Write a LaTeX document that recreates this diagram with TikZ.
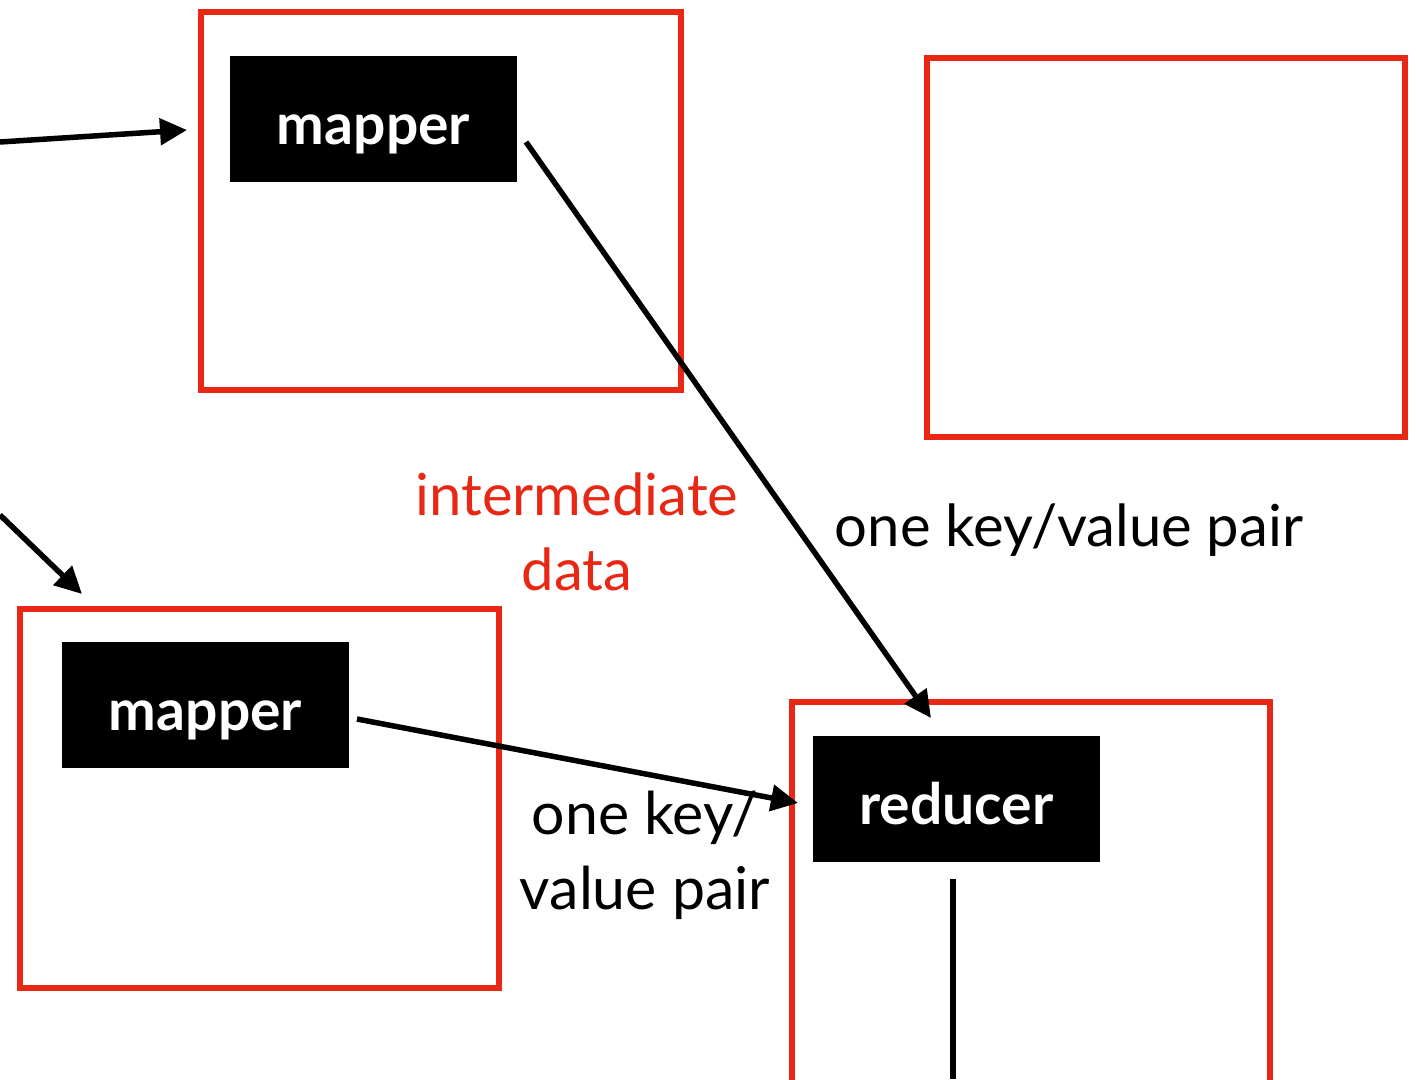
\documentclass[tikz,border=0pt]{standalone}
\usepackage{fontspec}
\setmainfont{Lato}
\usetikzlibrary{arrows.meta}
\definecolor{boxred}{RGB}{232,40,20}
\newcommand{\boxtxt}[1]{\raisebox{-25pt}[0pt][0pt]{#1}}
\begin{document}
\begin{tikzpicture}[x=1pt,y=-1pt,
  redbox/.style={draw=boxred,line width=5.5pt,inner sep=0pt,outer sep=0pt,anchor=north west},
  blackbox/.style={fill=black,text=white,inner sep=0pt,minimum width=287pt,minimum height=126pt,font=\fontsize{57}{68}\selectfont\bfseries},
  conn/.style={line width=5.5pt,-{Triangle[length=27pt,width=26pt]}},
  lbl/.style={font=\fontsize{59}{75}\selectfont,align=center,inner sep=0pt}]
\useasboundingbox (0,0) rectangle (1416,1079);
\begin{scope}
\clip (0,0) rectangle (1416,1079);
\node[redbox,minimum width=480pt,minimum height=378pt] (r1) at (201,12) {};
\node[redbox,minimum width=478pt,minimum height=379pt] (r2) at (927,58) {};
\node[redbox,minimum width=479pt,minimum height=379pt] (r3) at (20,609) {};
\node[redbox,minimum width=478pt,minimum height=420pt] (r4) at (792,702) {};
\end{scope}
\node[blackbox] (m1) at (373.5,119) {\boxtxt{mapper}};
\node[blackbox] (m2) at (205.5,705) {\boxtxt{mapper}};
\node[blackbox] (rd) at (956.5,799) {\boxtxt{reducer}};
\coordinate (s1) at (0,142);
\coordinate (t1) at (187,130);
\coordinate (s2) at (0,515);
\coordinate (t2) at (82,594);
\coordinate (s3) at (526,142);
\coordinate (t3) at (931,718);
\coordinate (s4) at (357,719);
\coordinate (t4) at (798,803);
\coordinate (v1) at (953,879);
\coordinate (v2) at (953,1079);
\draw[conn] (s1) -- (t1);
\draw[conn] (s2) -- (t2);
\draw[conn] (s3) -- (t3);
\draw[conn] (s4) -- (t4);
\draw[line width=5.5pt] (v1) -- (v2);
\node[lbl,text=boxred,font=\fontsize{58}{75}\selectfont] (im) at (577,532) {intermediate\\data};
\node[lbl,font=\fontsize{58}{75}\selectfont] (kv1) at (1069,530) {one key/value pair};
\node[lbl] (kv2) at (645,855) {one key/\\value pair};
\end{tikzpicture}
\end{document}
